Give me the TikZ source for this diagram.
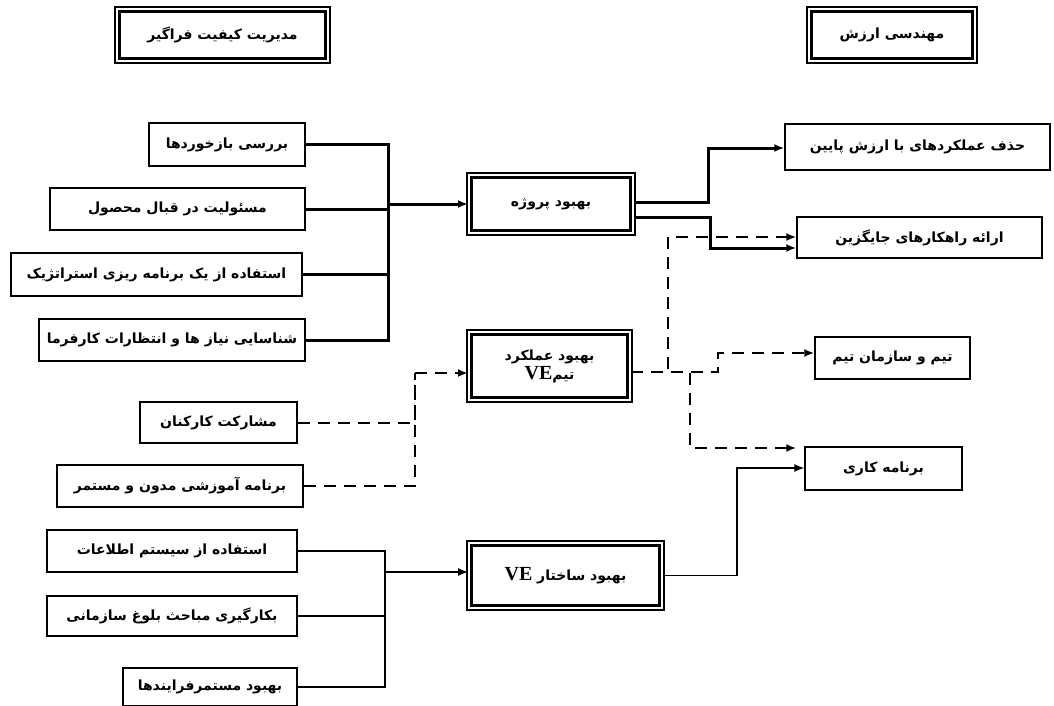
\documentclass[tikz,border=0pt]{standalone}
\usepackage{fontspec}
\usetikzlibrary{arrows.meta}
\TeXXeTstate=1
\newfontfamily\fafont[Script=Arabic]{DejaVu Sans}
\newfontfamily\vefont{Liberation Serif}
\newcommand{\fa}[1]{\beginR #1\endR}
\newcommand{\velat}{\beginL{\vefont\bfseries\fontsize{20}{20}\selectfont VE}\endL}

\tikzset{
    box/.style={rectangle, draw, line width=1.4pt, inner sep=0pt,
        font=\fafont\bfseries\fontsize{14}{17}\selectfont},
    tribox/.style={rectangle, draw, line width=2pt, double=white,
        double distance=1.2pt, inner sep=0pt, align=center,
        font=\fafont\bfseries\fontsize{14}{19}\selectfont},
    thk/.style={line width=3pt},
    thn/.style={line width=1.3pt},
    dsh/.style={line width=2pt, dash pattern=on 12pt off 8pt},
    arr/.style={-{Latex[length=10pt,width=8pt]}}
}

\begin{document}
\begin{tikzpicture}[x=1pt, y=-1pt]
    \useasboundingbox [fill=white] (0,0) rectangle (1054,706);

    \node [tribox, minimum width=211pt, minimum height=52pt] (tqm) at (222.5,35) {\fa{مدیریت کیفیت فراگیر}};
    \node [tribox, minimum width=166pt, minimum height=52pt] (ve) at (892,35) {\fa{مهندسی ارزش}};

    \node [box, minimum width=156pt, minimum height=43pt] (a1) at (227,144.5) {\fa{بررسی بازخوردها}};
    \node [box, minimum width=255pt, minimum height=42pt] (a2) at (177.5,209) {\fa{مسئولیت در قبال محصول}};
    \node [box, minimum width=291pt, minimum height=43pt] (a3) at (156.5,274.5) {\fa{استفاده از یک برنامه ریزی استراتژیک}};
    \node [box, minimum width=266pt, minimum height=42pt] (a4) at (172,340) {\fa{شناسایی نیاز ها و انتظارات کارفرما}};

    \node [box, minimum width=157pt, minimum height=41pt] (d1) at (218.5,422.5) {\fa{مشارکت کارکنان}};
    \node [box, minimum width=246pt, minimum height=42pt] (d2) at (180,486) {\fa{برنامه آموزشی مدون و مستمر}};

    \node [box, minimum width=250pt, minimum height=42pt] (e1) at (172,551) {\fa{استفاده از سیستم اطلاعات}};
    \node [box, minimum width=250pt, minimum height=40pt] (e2) at (172,616) {\fa{بکارگیری مباحث بلوغ سازمانی}};
    \node [box, minimum width=174pt, minimum height=38pt] (e3) at (210,687) {\fa{بهبود مستمرفرایندها}};

    \node [tribox, minimum width=164pt, minimum height=58pt] (proj) at (551,204) {\fa{بهبود پروژه}};
    \node [tribox, minimum width=161pt, minimum height=68pt] (team) at (549.5,366) {\fa{بهبود عملکرد}\\\fa{تیم\velat}};
    \node [tribox, minimum width=193pt, minimum height=65pt] (struct) at (565.5,575.5) {\fa{بهبود ساختار \velat}};

    \node [box, minimum width=265pt, minimum height=46pt] (b1) at (917.5,147) {\fa{حذف عملکردهای با ارزش پایین}};
    \node [box, minimum width=245pt, minimum height=41pt] (b2) at (919.5,237.5) {\fa{ارائه راهکارهای جایگزین}};
    \node [box, minimum width=155pt, minimum height=42pt] (c1) at (892.5,358) {\fa{تیم و سازمان تیم}};
    \node [box, minimum width=157pt, minimum height=43pt] (c2) at (883.5,468.5) {\fa{برنامه کاری}};

    \foreach \n in {tqm,ve,proj,team,struct}
        \draw [line width=1.5pt] ([shift={(4.6pt,-4.6pt)}]\n.north west) rectangle ([shift={(-4.6pt,4.6pt)}]\n.south east);

    \coordinate (j1) at (388,204);
    \coordinate (j2) at (415,373);
    \coordinate (j3) at (385,572);
    \coordinate (k1) at (708,148);
    \coordinate (k2) at (710,248);
    \coordinate (k3) at (737,468);
    \coordinate (m1) at (668,237);
    \coordinate (m2) at (690,448);
    \coordinate (m3) at (718,353);

    \draw [thk] (a1.east) -| (j1);
    \draw [thk] (a2.east) -| (j1);
    \draw [thk] (a3.east) -| (j1);
    \draw [thk] (a4.east) -| (j1);
    \draw [thk, arr] (j1) -- (proj.west |- j1);

    \draw [thk, arr] ([yshift=2pt]proj.east) -| (k1) -- (b1.west |- k1);
    \draw [thk, arr] ([yshift=-13pt]proj.east) -| (k2) -- (b2.west |- k2);

    \draw [dsh] (d1.east) -| (j2);
    \draw [dsh] (d2.east) -| (j2);
    \draw [dsh, arr] (j2) -- (team.west |- j2);

    \draw [dsh, arr] ([yshift=-6pt]team.east) -| (m1) -- (b2.west |- m1);
    \draw [dsh, arr] ([yshift=-6pt]team.east) -| (m2) -- ([xshift=-8pt]c2.west |- m2);
    \draw [dsh, arr] ([yshift=-6pt]team.east) -| (m3) -- (c1.west |- m3);

    \draw [thn] (e1.east) -| (j3);
    \draw [thn] (e2.east) -| (j3);
    \draw [thn] (e3.east) -| (j3);
    \draw [thn, arr] (j3) -- (struct.west |- j3);
    \draw [thn, arr] (struct.east) -| (k3) -- (c2.west |- k3);
\end{tikzpicture}
\end{document}
